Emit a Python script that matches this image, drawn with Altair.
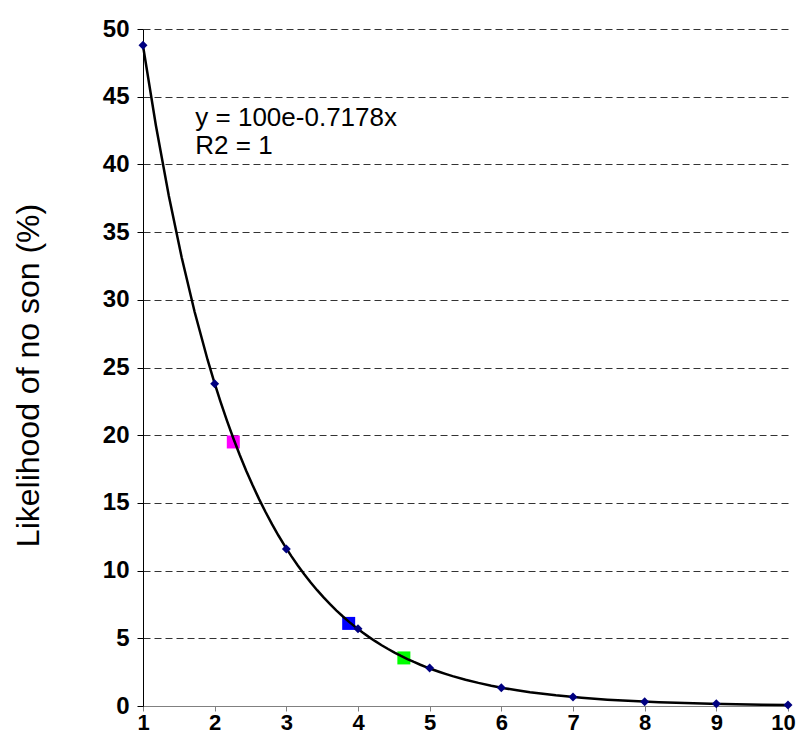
import altair as alt
import pandas as pd

# Data points (diamonds)
x_pts = [1, 2, 3, 4, 5, 6, 7, 8, 9, 10]
y_pts = [48.8, 23.8, 11.6, 5.7, 2.8, 1.35, 0.66, 0.32, 0.16, 0.08]

# Highlight squares
sq_x = [2.26, 3.87, 4.64]
sq_y = [19.5, 6.1, 3.55]
sq_color = ["#FF00FF", "#0000FF", "#00FF00"]

# Trendline annotation
eq_text = [["y = 100e-0.7178x", "R2 = 1"]]
eq_x = [1.73]
eq_y = [43.4]

pts = pd.DataFrame({"x": x_pts, "y": y_pts})
sq = pd.DataFrame({"x": sq_x, "y": sq_y, "c": sq_color})
ann = pd.DataFrame({"x": eq_x, "y": eq_y, "t": eq_text})

xs = alt.Scale(domain=[1, 10], nice=False, zero=False)
ys = alt.Scale(domain=[0, 50], nice=False)

xaxis = alt.Axis(values=list(range(1, 11)), format="d", grid=False,
                 domainColor="#808080", tickColor="#808080", tickSize=5,
                 labelFontSize=22, labelFontWeight="bold", labelPadding=1,
                 labelColor="black", title=None, labelFlush=False,
                 labelOffset={"condition": {"test": "datum.value == 10", "value": -5},
                              "value": 0})
yaxis = alt.Axis(values=list(range(0, 51, 5)), format="d", grid=True,
                 gridDash=[7, 4], gridColor="#333333", gridWidth=1,
                 domainColor="#000000", tickColor="#000000", tickSize=6,
                 labelFontSize=24, labelFontWeight="bold", labelPadding=8,
                 labelColor="black",
                 title="Likelihood of no son (%)", titleFontSize=32,
                 titleFontWeight="normal", titleColor="black",
                 titleX=-115, titleY=346, titleAngle=-90,
                 titleAlign="center", titleBaseline="middle")

base = alt.Chart(pts)

squares = alt.Chart(sq).mark_square(size=169, opacity=1).encode(
    x=alt.X("x:Q", scale=xs, axis=xaxis),
    y=alt.Y("y:Q", scale=ys, axis=yaxis),
    color=alt.Color("c:N", scale=None),
)

curve = base.transform_regression("x", "y", method="exp", extent=[1, 10]).mark_line(
    color="black", strokeWidth=2.5
).encode(x=alt.X("x:Q", scale=xs), y=alt.Y("y:Q", scale=ys))

diamonds = base.mark_point(shape="diamond", filled=True, size=80, color="#000080",
                           opacity=1).encode(
    x=alt.X("x:Q", scale=xs), y=alt.Y("y:Q", scale=ys)
)

text = alt.Chart(ann).mark_text(align="left", baseline="middle", fontSize=26,
                                lineHeight=28, color="black").encode(
    x=alt.X("x:Q", scale=xs), y=alt.Y("y:Q", scale=ys), text="t"
)

chart = (squares + curve + diamonds + text).properties(
    width=645, height=677,
    autosize=alt.AutoSizeParams(type="none"),
    padding={"left": 135, "top": 21, "right": 8, "bottom": 28},
).configure(font="Liberation Sans").configure_view(stroke=None)

chart.save("out.html", embed_options={"renderer": "svg", "actions": False})
